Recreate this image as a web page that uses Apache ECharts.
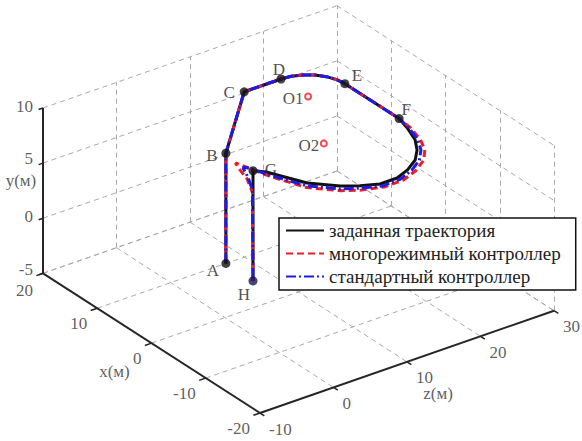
<!DOCTYPE html>
<html><head><meta charset="utf-8">
<script src="https://cdn.jsdelivr.net/npm/echarts@6/dist/echarts.min.js"></script>
<style>html,body{margin:0;padding:0;background:#fff}#c{width:582px;height:441px}</style>
</head><body><div id="c"></div>
<script>
// ---- axes (3D box) ----
const xTicks = [20, 10, 0, -10, -20];
const yTicks = [-5, 0, 5, 10];
const zTicks = [-10, 0, 10, 20, 30];
const xRange = [-20, 20], yRange = [-5, 10], zRange = [-10, 30];
const axisTitles = ['x(м)', 'y(м)', 'z(м)'];

// ---- trajectories (x, y, z in metres) ----
const seriesNames = ['заданная траектория', 'многорежимный контроллер', 'стандартный контроллер'];
const refX = [10, 10, 10, 10, 9.83, 9.33, 8.54, 7.5, 6.29, 5, -5, -6.2, -7.4, -7.9, -8.1, -7.9, -7.2, -6.1, -4.7, -3.5, -0.8, 2.3, 3.9, 5, 5];
const refY = [-5, 5, 10, 10, 10, 10, 10, 10, 10, 10, 10, 9.5, 8.75, 8, 7.25, 6.5, 5.75, 5.2, 5, 5, 5, 5, 5, 5, -5];
const refZ = [7.5, 7.5, 10, 15, 16.29, 17.5, 18.54, 19.33, 19.83, 20, 20, 20.2, 20.4, 20.3, 19.9, 19, 18.1, 16.6, 14.9, 13.1, 10.6, 9.2, 8.5, 7.5, 7.5];

const mmX = [10, 10, 10, 10, 9.83, 9.33, 8.54, 7.5, 6.29, 5, -5, -6.4, -7.7, -8.4, -8.7, -8.6, -7.9, -6.7, -5.1, -3.8, -1.0, 2.0, 4.0, 6.5, 7.7, 7.3, 6.0, 5.1, 5];
const mmY = [-5, 5, 10, 10, 10, 10, 10, 10, 10, 10, 10, 9.5, 8.75, 8, 7.25, 6.5, 5.7, 5.1, 4.75, 4.7, 4.7, 4.8, 4.9, 5.0, 4.95, 4.6, 4.0, 3.0, -5];
const mmZ = [7.5, 7.5, 10, 15, 16.29, 17.5, 18.54, 19.33, 19.83, 20, 20, 20.5, 20.9, 21, 20.6, 19.6, 18.4, 16.7, 14.8, 13.0, 10.4, 9.0, 8.1, 7.3, 7.1, 7.2, 7.4, 7.5, 7.5];

const stX = [10, 10, 10, 10, 9.83, 9.33, 8.54, 7.5, 6.29, 5, -5, -6.3, -7.55, -8.15, -8.4, -8.25, -7.55, -6.4, -4.9, -3.65, -0.9, 2.15, 4.0, 6.0, 6.6, 5.8, 5.1, 5];
const stY = [-5, 5, 10, 10, 10, 10, 10, 10, 10, 10, 10, 9.5, 8.75, 8, 7.25, 6.5, 5.7, 5.1, 4.85, 4.8, 4.8, 4.85, 4.9, 5.0, 4.8, 4.2, 3.2, -5];
const stZ = [7.5, 7.5, 10, 15, 16.29, 17.5, 18.54, 19.33, 19.83, 20, 20, 20.35, 20.65, 20.65, 20.25, 19.3, 18.25, 16.65, 14.85, 13.05, 10.5, 9.1, 8.3, 7.4, 7.3, 7.4, 7.5, 7.5];

// ---- labelled waypoints ----
const pointNames = ['A', 'B', 'C', 'D', 'E', 'F', 'G', 'H'];
const pointX = [10, 10, 10, 10, 5, -5, 5, 5];
const pointY = [-5, 5, 10, 10, 10, 10, 5, -5];
const pointZ = [7.5, 7.5, 10, 15, 20, 20, 7.5, 7.5];
const centerNames = ['O1', 'O2'];
const centerX = [5, 5.5];
const centerY = [10, 5];
const centerZ = [15, 17.5];

// ---- view: screen direction of each 3D unit ----
const VIEW = { origin: [43, 273.3], ex: [-5.425, -3.4925], ez: [7.35, -2.5575], ey: 11.02 };
function proj(x, y, z) {
  const dx = x - xRange[1], dz = z - zRange[0], dy = y - yRange[0];
  return [VIEW.origin[0] + dx * VIEW.ex[0] + dz * VIEW.ez[0],
          VIEW.origin[1] + dx * VIEW.ex[1] + dz * VIEW.ez[1] - dy * VIEW.ey];
}

const FONT = '"Liberation Serif", "Times New Roman", serif';
const gridSegs = [];
const seg = (a, b) => gridSegs.push({ coords: [proj(...a), proj(...b)] });
const [x0, x1] = xRange, [y0, y1] = yRange, [z0, z1] = zRange;
// wall x = max
yTicks.forEach(v => seg([x1, v, z0], [x1, v, z1]));
zTicks.forEach(v => seg([x1, y0, v], [x1, y1, v]));
// wall z = max
yTicks.forEach(v => seg([x1, v, z1], [x0, v, z1]));
xTicks.forEach(v => seg([v, y0, z1], [v, y1, z1]));
// floor y = min
xTicks.forEach(v => seg([v, y0, z0], [v, y0, z1]));
zTicks.forEach(v => seg([x1, y0, v], [x0, y0, v]));

const axisSegs = [
  { coords: [proj(x1, y0, z0), proj(x1, y1, z0)] },
  { coords: [proj(x1, y0, z0), proj(x0, y0, z0)] },
  { coords: [proj(x0, y0, z0), proj(x0, y0, z1)] }
];
const tickSegs = [];
yTicks.forEach(v => tickSegs.push({ coords: [proj(x1, v, z0), proj(x1, v, z0 - 0.6)] }));
xTicks.forEach(v => tickSegs.push({ coords: [proj(v, y0, z0), proj(v, y0, z0 - 0.9)] }));
zTicks.forEach(v => tickSegs.push({ coords: [proj(x0, y0, v), proj(x0 - 0.8, y0, v)] }));

const tickLabels = [];
yTicks.forEach(v => tickLabels.push({ name: String(v), value: proj(x1, v, z0), label: { align: 'right', offset: [-10, v === y0 ? -4 : (v === 5 ? -5 : -2)] } }));
xTicks.forEach(v => tickLabels.push({ name: String(v), value: proj(v, y0, z0), label: { align: 'right', offset: [-10, v === x1 ? 17 : 15] } }));
zTicks.forEach(v => tickLabels.push({ name: String(v), value: proj(x0, y0, v), label: { align: 'left', offset: [9, 16] } }));
tickLabels.push({ name: axisTitles[1], value: proj(x1, 2.5, z0), label: { offset: [-22, -10] } });
tickLabels.push({ name: axisTitles[0], value: proj(0, y0, z0), label: { offset: [-37, 28] } });
tickLabels.push({ name: axisTitles[2], value: proj(x0, y0, 10), label: { offset: [31, 32] } });

const pointLabelOffset = { A: [-13, 7], B: [-14, 2], C: [-15, 1], D: [-2, -9], E: [12, -8], F: [7, -9], G: [18, -1], H: [-9, 14] };
const pts = pointNames.map((n, i) => ({
  name: n, value: proj(pointX[i], pointY[i], pointZ[i]),
  itemStyle: { color: n === 'H' ? '#14145a' : '#111' },
  label: { offset: pointLabelOffset[n] }
}));
const centers = centerNames.map((n, i) => ({
  name: n, value: proj(centerX[i], centerY[i], centerZ[i]), label: { offset: [-15, 2] }
}));

const path = (X, Y, Z) => X.map((x, i) => proj(x, Y[i], Z[i]));

const option = {
  animation: false,
  backgroundColor: '#fff',
  grid: { left: 0, right: 0, top: 0, bottom: 0 },
  xAxis: { type: 'value', min: 0, max: 582, show: false },
  yAxis: { type: 'value', min: 0, max: 441, inverse: true, show: false },
  legend: {
    data: seriesNames, orient: 'vertical', left: 279, top: 218,
    itemWidth: 38, itemHeight: 14, itemGap: 4,
    padding: [3, 15, 4, 6], borderColor: '#111', borderWidth: 1.5, backgroundColor: '#fff',
    itemStyle: { opacity: 0 },
    textStyle: { fontFamily: FONT, fontSize: 19, color: '#222' },
    selectedMode: false
  },
  series: [
    { type: 'lines', coordinateSystem: 'cartesian2d', silent: true, z: 1, data: gridSegs,
      lineStyle: { color: '#a9a9a9', width: 1, type: [5, 4], opacity: 1 } },
    { type: 'lines', coordinateSystem: 'cartesian2d', silent: true, z: 2, data: axisSegs,
      lineStyle: { color: '#262626', width: 2, opacity: 1 } },
    { type: 'lines', coordinateSystem: 'cartesian2d', silent: true, z: 2, data: tickSegs,
      lineStyle: { color: '#262626', width: 1.5, opacity: 1 } },
    { type: 'scatter', silent: true, z: 3, symbol: 'circle', symbolSize: 1, data: tickLabels,
      itemStyle: { color: 'transparent' },
      label: { show: true, position: 'inside', formatter: p => p.name, fontFamily: FONT, fontSize: 17, color: '#333' } },
    { name: seriesNames[0], type: 'line', z: 4, data: path(refX, refY, refZ), symbol: 'none', smooth: false,
      clip: false, color: '#111', lineStyle: { color: '#111', width: 3, join: 'round' } },
    { name: seriesNames[1], type: 'line', z: 5, data: path(mmX, mmY, mmZ), symbol: 'none', smooth: false,
      clip: false, color: '#f01c24', lineStyle: { color: '#f01c24', width: 3, type: [7, 4] } },
    { name: seriesNames[2], type: 'line', z: 6, data: path(stX, stY, stZ), symbol: 'none', smooth: false,
      clip: false, color: '#1c1ce6', lineStyle: { color: '#1c1ce6', width: 3, type: [10, 3, 2, 3] } },
    { type: 'scatter', silent: true, z: 7, symbol: 'circle', symbolSize: 9, data: pts,
      label: { show: true, position: 'inside', formatter: p => p.name, fontFamily: FONT, fontSize: 17, color: '#222' } },
    { type: 'scatter', silent: true, z: 7, symbol: 'emptyCircle', symbolSize: 6, data: centers,
      itemStyle: { color: '#f01c24', borderColor: '#f01c24', borderWidth: 1.5 },
      label: { show: true, position: 'inside', formatter: p => p.name, fontFamily: FONT, fontSize: 17, color: '#222' } }
  ]
};
const chart = echarts.init(document.getElementById('c'), null, { renderer: 'svg' });
chart.setOption(option);
</script></body></html>
